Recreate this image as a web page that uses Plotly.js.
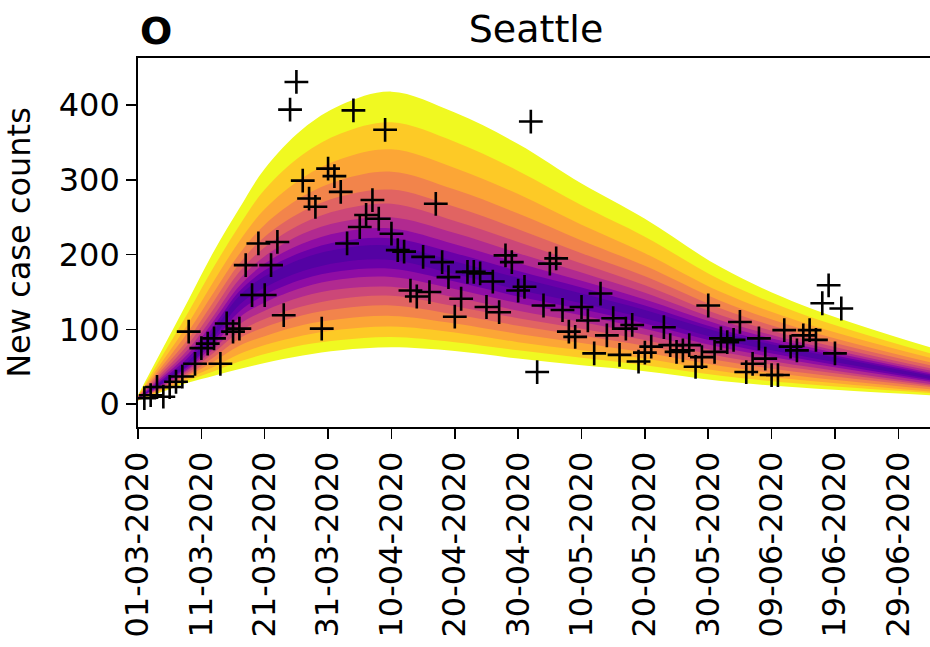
<!DOCTYPE html>
<html>
<head>
<meta charset="utf-8">
<script src="https://cdn.plot.ly/plotly-3.0.1.min.js"></script>
<style>html,body{margin:0;padding:0;background:#fff;}#chart{width:930px;height:647px;}</style>
</head>
<body>
<div id="chart"></div>
<script>
// ---- Data ----
const startDate = '2020-03-01';
const tickLabels = ['01-03-2020','11-03-2020','21-03-2020','31-03-2020','10-04-2020','20-04-2020','30-04-2020','10-05-2020','20-05-2020','30-05-2020','09-06-2020','19-06-2020','29-06-2020'];

// observed daily new case counts (day offset from 01-03-2020)
const caseDays = [1,2,3,4,5,6,7,8,9,10,11,12,13,14,15,16,17,18,19,20,21,22,23,24,25,26,27,28,29,30,31,32,33,34,35,36,37,38,39,40,
  41,42,43,44,45,46,47,48,49,50,51,52,53,54,55,56,57,58,59,60,61,62,63,64,65,66,67,68,69,70,71,72,73,74,75,76,77,78,79,80,81,
  83,84,85,86,87,88,89,90,91,92,93,94,95,96,97,98,99,100,101,102,103,104,105,106,107,108,109,110,111];
const caseCounts = [8,12,23,10,23,30,37,97,54,75,81,88,54,108,97,101,186,146,215,146,186,217,119,394,431,299,275,264,101,315,305,284,215,393,237,253,273,248,367,228,
  206,204,152,144,197,150,268,190,170,117,141,177,177,175,130,164,123,199,190,152,157,378,43,132,188,195,126,97,90,130,112,68,148,92,115,66,101,106,57,69,77,
  103,79,70,72,79,50,63,132,70,88,83,86,110,43,54,88,61,39,39,99,77,72,92,99,86,135,159,68,128];

// model fan (quantile band edges), sampled at these day offsets
const fanDays = [0,4,8,12,16,20,26,32,40,50,60,70,80,92,105,125];
const median  = [8,30,55,95,140,165,188,200,203,183,161,142,121,92,68,36];
// upper edges, outermost (band 0) to innermost (band 9)
const upper0 = [12,76,140,205,262,315,368,400,418,390,348,295,248,183,132,76];
const upper1 = [11,67,124,184,239,287,334,362,377,351,312,266,224,166,120,68];
const upper2 = [11,59,109,165,218,261,303,328,341,316,281,240,202,150,109,62];
const upper3 = [10,53,98,150,201,240,278,300,311,287,255,219,185,138,100,56];
const upper4 = [10,48,88,138,188,224,258,278,287,264,234,202,171,128,93,52];
const upper5 = [9,44,81,128,177,210,242,260,268,245,217,188,159,119,87,48];
const upper6 = [9,40,74,119,167,198,228,244,250,229,202,176,149,112,82,45];
const upper7 = [9,37,68,112,158,188,215,230,235,214,189,165,140,106,78,42];
const upper8 = [8,34,63,105,151,179,204,218,222,202,178,156,132,100,74,40];
const upper9 = [8,32,58,99,145,171,195,208,212,191,169,148,126,96,71,38];
// lower edges, outermost (band 0) to innermost (band 9)
const lower0 = [5,17,29,38,47,55,65,72,76,71,61,52,44,31,22,12];
const lower1 = [5,18,32,44,57,67,79,86,90,83,72,62,52,38,27,15];
const lower2 = [6,20,35,50,67,79,92,100,104,96,83,72,61,44,32,17];
const lower3 = [6,21,38,57,78,91,106,114,118,108,94,82,69,51,37,20];
const lower4 = [6,23,40,63,88,103,119,128,132,120,105,92,78,58,42,23];
const lower5 = [7,24,43,69,97,114,131,141,145,131,115,101,86,64,47,25];
const lower6 = [7,25,46,74,107,125,144,154,157,143,125,110,93,70,51,27];
const lower7 = [7,27,48,80,116,136,156,167,170,154,135,119,101,76,56,30];
const lower8 = [8,28,51,85,124,146,167,178,181,164,144,127,108,82,60,32];
const lower9 = [8,29,53,90,133,156,178,190,193,174,153,135,115,87,64,34];

// plasma colours, outer band to inner band
const bandColors = ['#f0f921','#fdca26','#fca636','#f2844b','#e16462','#cc4778','#b12a90','#8f0da4','#6a00a8','#5402a3'];

// ---- Build traces ----
function dayToDate(d){
  const t = Date.UTC(2020,2,1) + d*86400000;
  return new Date(t).toISOString().slice(0,10);
}
function labelToDate(s){ const p = s.split('-'); return p[2]+'-'+p[1]+'-'+p[0]; }

const fanX = fanDays.map(dayToDate);
const uppers = [upper0,upper1,upper2,upper3,upper4,upper5,upper6,upper7,upper8,upper9];
const lowers = [lower0,lower1,lower2,lower3,lower4,lower5,lower6,lower7,lower8,lower9];

const traces = [];
for (let k = 0; k < uppers.length; k++) {
  traces.push({x: fanX, y: lowers[k], type:'scatter', mode:'lines',
    line:{width:0, shape:'spline', smoothing:1}, fill:'none', hoverinfo:'skip', showlegend:false});
  traces.push({x: fanX, y: uppers[k], type:'scatter', mode:'lines',
    line:{width:0, shape:'spline', smoothing:1}, fill:'tonexty', fillcolor: bandColors[k], hoverinfo:'skip', showlegend:false});
}
traces.push({
  x: caseDays.map(dayToDate), y: caseCounts, type:'scatter', mode:'markers', showlegend:false,
  marker:{symbol:'cross-thin', size:17, color:'#000', line:{width:2.6, color:'#000'}}
});

const font = 'DejaVu Sans, sans-serif';
const layout = {
  width: 930, height: 647,
  margin: {l:138, r:0, t:58, b:220},
  paper_bgcolor:'#fff', plot_bgcolor:'#fff',
  font: {family: font, color:'#000', size:32},
  title: {text:'Seattle', font:{family:font, size:38, color:'#000'},
    xref:'container', x: 536/930, xanchor:'center', yref:'container', y: 1-29/647, yanchor:'middle'},
  xaxis: {
    type:'date', range:['2020-03-01','2020-07-04'],
    tickvals: tickLabels.map(labelToDate), ticktext: tickLabels, tickangle:-90,
    tickfont:{family:font, size:32, color:'#000'},
    ticks:'outside', ticklen:10, tickwidth:1.5, tickcolor:'#000',
    showline:true, linecolor:'#000', linewidth:1.8, mirror:true,
    showgrid:false, zeroline:false, automargin:false
  },
  yaxis: {
    range:[-30.5, 463],
    tickvals:[0,100,200,300,400],
    tickfont:{family:font, size:32, color:'#000'},
    ticks:'outside', ticklen:10, tickwidth:1.5, tickcolor:'#000',
    showline:true, linecolor:'#000', linewidth:1.8,
    showgrid:false, zeroline:false, automargin:false,
    title:{text:'New case counts', font:{family:font, size:32, color:'#000'}, standoff:20}
  },
  annotations: [{
    text:'<b>O</b>', xref:'paper', yref:'paper', x:0.0, y:1+(58-31)/369, xanchor:'left', yanchor:'middle',
    showarrow:false, font:{family:font, size:38, color:'#000'}
  }]
};

Plotly.newPlot('chart', traces, layout, {displayModeBar:false, staticPlot:true});
</script>
</body>
</html>
